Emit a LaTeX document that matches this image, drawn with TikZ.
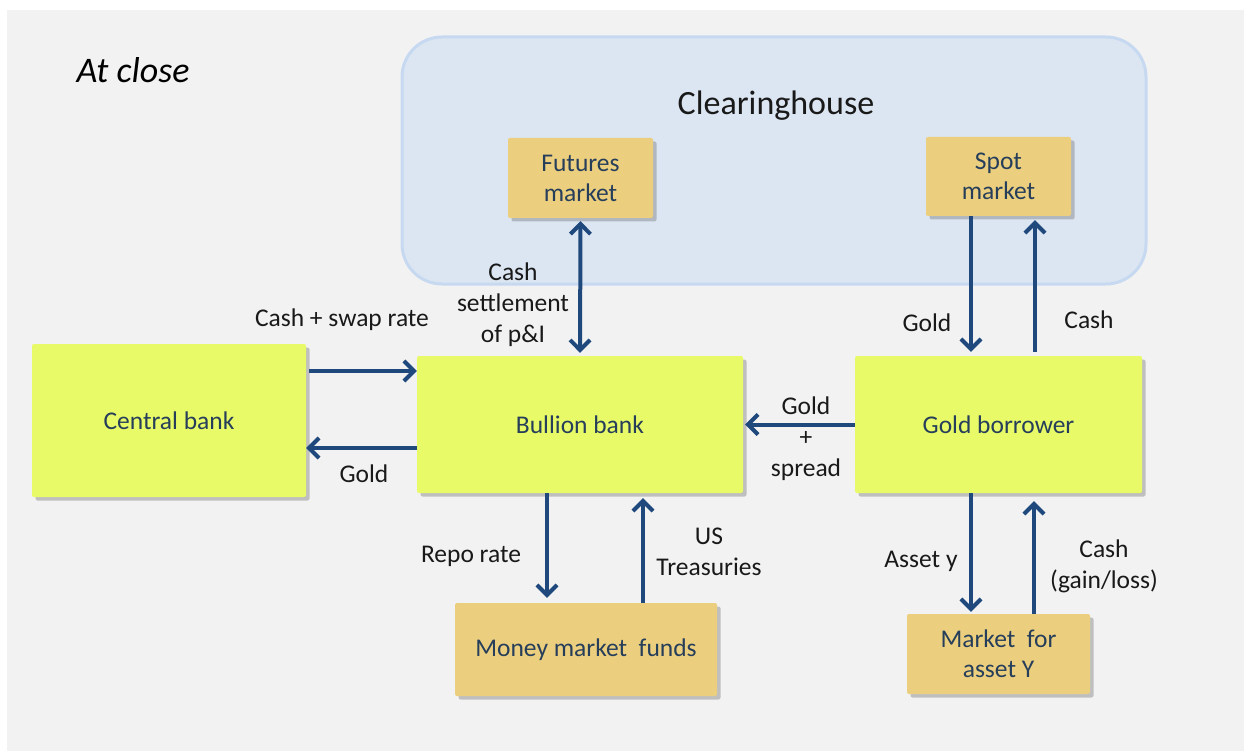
\documentclass[tikz,border=0pt]{standalone}
\usepackage{fontspec}
\setmainfont{Carlito}
\usetikzlibrary{arrows.meta,shadows,calc}
\definecolor{bgcol}{RGB}{242,242,242}
\definecolor{chfill}{RGB}{220,230,242}
\definecolor{chdraw}{RGB}{198,217,241}
\definecolor{ygreen}{RGB}{232,250,104}
\definecolor{boxtan}{RGB}{235,207,127}
\definecolor{arrowblue}{RGB}{31,73,125}
\definecolor{boxtext}{RGB}{38,62,90}
\begin{document}
\begin{tikzpicture}[x=1pt,y=-1pt,
  box/.style={rectangle, rounded corners=2pt, inner sep=0pt, align=center, text=boxtext,
    font=\fontsize{25.5}{30}\selectfont,
    drop shadow={shadow xshift=3.5pt, shadow yshift=-3.5pt, fill=black!70, opacity=0.3}},
  gbox/.style={box, fill=ygreen},
  tbox/.style={box, fill=boxtan},
  lab/.style={inner sep=0pt, align=center, text=black!90, font=\fontsize{25.5}{31}\selectfont},
  arr/.style={draw=arrowblue, line width=4pt, -{Straight Barb[length=10pt,width=20pt]}},
  dblarr/.style={arr, {Straight Barb[length=10pt,width=20pt]}-{Straight Barb[length=10pt,width=20pt]}}
]
\useasboundingbox (0,0) rectangle (1244,751);
\fill[white] (0,0) rectangle (1244,751);
\fill[bgcol] (7,10) rectangle (1244,751);

% clearinghouse
\node[draw=chdraw, line width=3pt, fill=chfill, rounded corners=40pt, minimum width=744pt, minimum height=247pt, inner sep=0pt] (ch) at (774,160.5) {};
\node[inner sep=0pt, text=black!90, font=\fontsize{34}{40}\selectfont] (chl) at (776,106) {Clearinghouse};
\node[inner sep=0pt, text=black, font=\fontsize{36}{40}\selectfont\itshape] (title) at (133,70) {At close};

% boxes
\node[gbox, minimum width=274pt, minimum height=153pt] (cb) at (169,420.5) {Central bank};
\node[gbox, minimum width=326pt, minimum height=137pt] (bb) at (580,424.5) {Bullion bank};
\node[gbox, minimum width=287pt, minimum height=137pt] (gb) at (998.5,424.5) {Gold borrower};
\node[tbox, minimum width=145pt, minimum height=80pt] (fut) at (580.5,178) {Futures\\market};
\node[tbox, minimum width=145pt, minimum height=79pt] (spot) at (998.5,176.5) {Spot\\market};
\node[tbox, minimum width=262pt, minimum height=93pt] (mmf) at (586,649.5) {Money market\ \ funds};
\node[tbox, minimum width=183pt, minimum height=80pt] (mky) at (998.5,654) {Market\ \ for\\asset Y};

% connectors
\draw[dblarr, shorten <=3pt, shorten >=3pt] (fut.south) -- (bb.north);

\coordinate (s1) at ([xshift=-27.5pt]spot.south);
\draw[arr, shorten >=4pt] (s1) -- (s1 |- gb.north);
\coordinate (s2) at ([xshift=36.5pt]gb.north);
\draw[arr, shorten <=4pt, shorten >=4pt] (s2) -- (s2 |- spot.south);

\coordinate (c1) at ([yshift=49.5pt]cb.east);
\draw[arr, shorten <=3pt] (c1) -- (c1 -| bb.west);
\coordinate (c2) at ([yshift=-23.5pt]bb.west);
\draw[arr] (c2) -- (c2 -| cb.east);

\draw[arr, shorten >=2pt] (gb.west) -- (bb.east);

\coordinate (m1) at ([xshift=-33pt]bb.south);
\draw[arr, shorten >=5pt] (m1) -- (m1 |- mmf.north);
\coordinate (m2) at ([xshift=57pt]mmf.north);
\draw[arr, shorten >=5pt] (m2) -- (m2 |- bb.south);

\coordinate (y1) at ([xshift=-27.5pt]gb.south);
\draw[arr, shorten >=2pt] (y1) -- (y1 |- mky.north);
\coordinate (y2) at ([xshift=35.5pt]mky.north);
\draw[arr, shorten >=8pt] (y2) -- (y2 |- gb.south);

% labels
\node[lab] (l1) at (342,320) {Cash + swap rate};
\node[lab] (l2) at (364,474) {Gold};
\node[lab] (l3) at (513,305) {Cash\\settlement\\of p\&I};
\node[lab] (l4) at (927,323) {Gold};
\node[lab] (l5) at (1089,320) {Cash};
\node[lab] (l6) at (806,439) {Gold\\+\\spread};
\node[lab] (l7) at (471,556) {Repo rate};
\node[lab] (l8) at (709,552) {US\\Treasuries};
\node[lab] (l9) at (921,561) {Asset y};
\node[lab] (l10) at (1104,566) {Cash\\(gain/loss)};
\end{tikzpicture}
\end{document}
